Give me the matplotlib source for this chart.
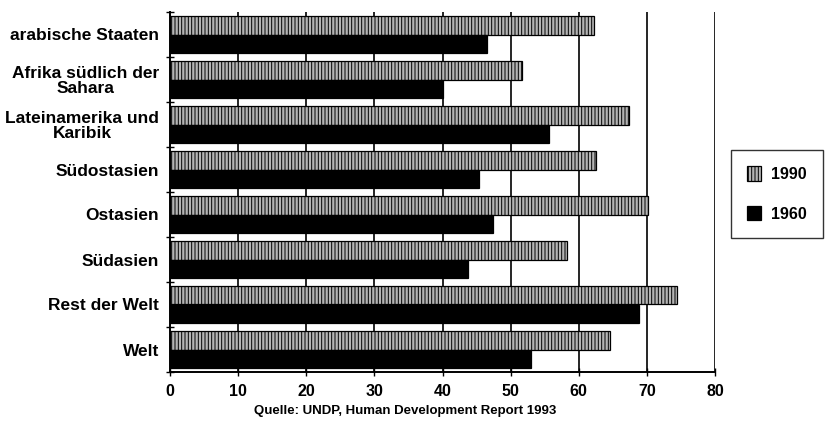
import numpy as np
import matplotlib
matplotlib.use('Agg')
import matplotlib.pyplot as plt

plt.rcParams['font.family'] = ['Liberation Sans', 'DejaVu Sans']
plt.rcParams['font.weight'] = 'bold'
plt.rcParams['hatch.linewidth'] = 0.7

# Lebenserwartung bei Geburt (Jahre)
regions = ['arabische Staaten', 'Afrika südlich der\nSahara', 'Lateinamerika und\nKaribik',
           'Südostasien', 'Ostasien', 'Südasien', 'Rest der Welt', 'Welt']
le_1990 = [62.2, 51.7, 67.4, 62.5, 70.1, 58.3, 74.4, 64.6]
le_1960 = [46.6, 40.0, 55.7, 45.3, 47.4, 43.7, 68.9, 53.0]
xticks = [0, 10, 20, 30, 40, 50, 60, 70, 80]

fig = plt.figure(figsize=(8.32, 4.32), dpi=100)
ax = fig.add_axes([170/832, 1 - 372/432, 545/832, 360/432])

y = np.arange(len(regions))
h = 0.41
ax.barh(y - h/2, le_1990, height=h, color='#b4b4b4', edgecolor='black',
        hatch='|||||', linewidth=0.9, label='1990', zorder=3)
ax.barh(y + h/2, le_1960, height=h, color='black', edgecolor='black',
        linewidth=0.9, label='1960', zorder=3)

ax.set_xlim(0, 80)
ax.set_ylim(len(regions) - 0.5, -0.5)
ax.set_xticks(xticks)
ax.set_xticklabels([str(t) for t in xticks], fontsize=11.5, fontweight='bold')
ax.set_yticks(y)
ax.set_yticklabels(regions, fontsize=12.5, fontweight='bold')
for lbl in ax.get_yticklabels():
    lbl.set_multialignment('center')
    lbl.set_linespacing(1.0)
ax.set_yticks(np.arange(len(regions) + 1) - 0.5, minor=True)
ax.tick_params(axis='y', which='major', length=0, pad=8)
ax.tick_params(axis='y', which='minor', length=6, direction='inout', width=1)
ax.tick_params(axis='x', length=6, direction='inout', width=1, pad=6)

for x in xticks[1:]:
    ax.axvline(x, color='black', linewidth=1.2, zorder=1)
ax.spines['top'].set_visible(False)
ax.spines['right'].set_visible(False)
ax.spines['left'].set_linewidth(1.4)
ax.spines['bottom'].set_linewidth(1.4)

fig.text(405/832, 1 - 411/432, 'Quelle: UNDP, Human Development Report 1993',
         ha='center', va='center', fontsize=9.5, fontweight='bold')

leg = ax.legend(loc='center left', bbox_to_anchor=(723/832, 1 - 194/432),
                bbox_transform=fig.transFigure, frameon=True, fancybox=False,
                handlelength=0.9, handleheight=1.0,
                labelspacing=1.5, borderpad=1.0, handletextpad=0.6,
                prop={'weight': 'bold', 'size': 11.5})
leg.get_frame().set_edgecolor('black')
leg.get_frame().set_linewidth(1.0)

fig.savefig('out.png', dpi=100)
